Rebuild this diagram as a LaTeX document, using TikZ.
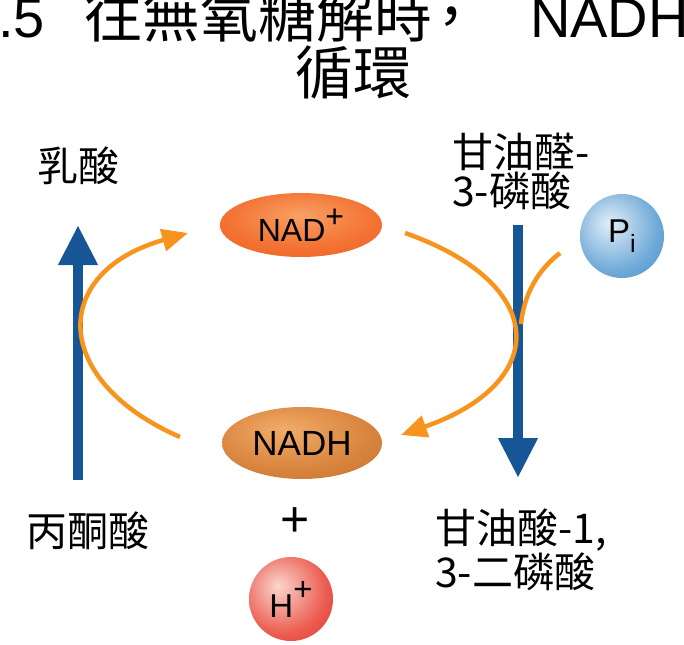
\documentclass[tikz,border=0pt]{standalone}
\usepackage{fontspec}
\setmainfont{Liberation Sans}
\newfontfamily\cjk{Noto Sans CJK TC}
\usetikzlibrary{arrows.meta,shapes.geometric}
\definecolor{blu}{RGB}{22,86,150}
\definecolor{org}{RGB}{247,148,29}
\definecolor{nadpA}{RGB}{248,160,100}
\definecolor{nadpB}{RGB}{243,116,52}
\definecolor{nadpC}{RGB}{234,82,24}
\definecolor{nadhA}{RGB}{242,172,104}
\definecolor{nadhB}{RGB}{216,132,62}
\definecolor{nadhC}{RGB}{190,102,40}
\definecolor{piA}{RGB}{226,238,248}
\definecolor{piB}{RGB}{112,170,216}
\definecolor{piC}{RGB}{46,118,182}
\definecolor{hA}{RGB}{250,214,206}
\definecolor{hB}{RGB}{236,92,80}
\definecolor{hC}{RGB}{214,28,28}
\pgfdeclareradialshading{nadpsh}{\pgfpoint{0bp}{8bp}}{color(0bp)=(nadpA); color(22bp)=(nadpB); color(48bp)=(nadpC); color(70bp)=(nadpC)}
\pgfdeclareradialshading{nadhsh}{\pgfpoint{-6bp}{10bp}}{color(0bp)=(nadhA); color(25bp)=(nadhB); color(50bp)=(nadhC); color(70bp)=(nadhC)}
\pgfdeclareradialshading{pish}{\pgfpoint{-8bp}{8bp}}{color(0bp)=(piA); color(26bp)=(piB); color(52bp)=(piC); color(75bp)=(piC)}
\pgfdeclareradialshading{hsh}{\pgfpoint{-8bp}{8bp}}{color(0bp)=(hA); color(26bp)=(hB); color(52bp)=(hC); color(75bp)=(hC)}
\tikzset{
  cjklabel/.style={inner sep=0, font=\cjk\fontsize{41}{39}\selectfont},
  titlelat/.style={anchor=base west, inner sep=0, font=\fontsize{56}{60}\selectfont},
  titlecjk/.style={inner sep=0, font=\cjk\fontsize{58}{60}\selectfont},
  bluearrow/.style={blu, line width=10pt, -{Triangle[width=37pt,length=40pt]}},
  orgarrow/.style={org, line width=4.5pt, -{Triangle[width=22pt,length=26pt]}},
  orgline/.style={org, line width=4.5pt},
  molec/.style={inner sep=0, text=black},
}
\begin{document}
\begin{tikzpicture}[x=1pt,y=-1pt]
\useasboundingbox (0,0) rectangle (684,644);
\clip (0,0) rectangle (684,644);
% title
\node[titlelat] (t1) at (-2,38) {.5};
\node[titlecjk, anchor=base west] (t2) at (84,38) {往無氧糖解時};
\node[titlecjk, anchor=base west] (t3) at (422,38) {，};
\node[titlelat] (t4) at (530,38) {NADH};
\node[titlecjk] (t5) at (353,72) {循環};
% labels
\node[cjklabel] (lac) at (78,166) {乳酸};
\node[cjklabel] (pyr) at (88,531) {丙酮酸};
\node[cjklabel, anchor=west, align=left] (g3p) at (452,171) {甘油醛-\\3-磷酸};
\node[cjklabel, anchor=west, align=left, font=\cjk\fontsize{41}{44}\selectfont] (bpg) at (435,550) {甘油酸-1,\\3-二磷酸};
% molecules
\node[molec, ellipse, minimum width=162pt, minimum height=64pt, shading=nadpsh, font=\fontsize{32}{34}\selectfont] (nadp) at (301,225) {NAD\raisebox{14pt}{+}};
\node[molec, ellipse, minimum width=160pt, minimum height=72pt, shading=nadhsh, font=\fontsize{35}{36}\selectfont] (nadh) at (302,443) {NADH};
\node[molec, circle, minimum size=84pt, shading=pish, font=\fontsize{33}{34}\selectfont] (pi) at (622,236) {P\raisebox{-10pt}{\fontsize{25}{25}\selectfont i}};
\node[molec, circle, minimum size=84pt, shading=hsh, font=\fontsize{33}{34}\selectfont] (hp) at (291,599) {H\raisebox{17pt}{+}};
\node[inner sep=0, font=\fontsize{50}{50}\selectfont] (plus) at (295,522) {+};
% blue arrows
\coordinate (lbot) at (78,480);
\coordinate (ltop) at (78,225);
\coordinate (rtop) at (518,225);
\coordinate (rbot) at (518,478);
\draw[bluearrow] (lbot) -- (ltop);
\draw[bluearrow] (rtop) -- (rbot);
% orange cycle
\coordinate (nadhL) at (180,437);
\coordinate (nadpL) at (188,233);
\coordinate (nadpR) at (405,233);
\coordinate (nadhR) at (401,435);
\coordinate (pistart) at (560,253);
\coordinate (pijoin) at (521,324);
\draw[orgarrow] (nadhL) .. controls (50,380) and (50,272) .. (nadpL);
\draw[orgarrow] (nadpR) .. controls (550,284) and (550,383) .. (nadhR);
\draw[orgline] (pistart) .. controls (538,270) and (524,294) .. (pijoin);
\end{tikzpicture}
\end{document}
